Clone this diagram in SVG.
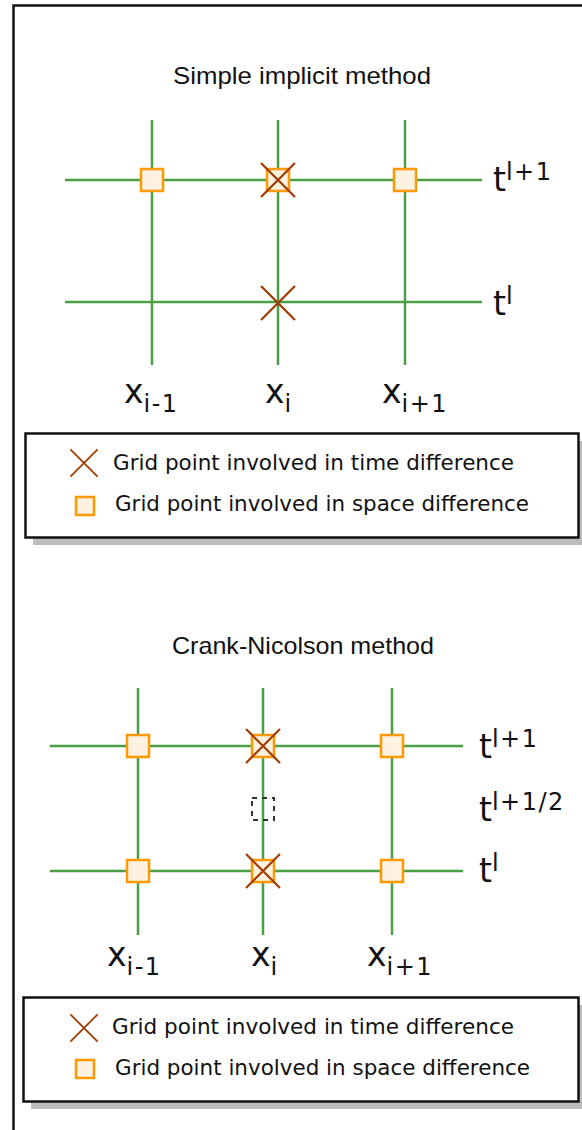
<svg xmlns="http://www.w3.org/2000/svg" width="582" height="1130" viewBox="0 0 582 1130">
<style>
.grid{stroke:#4a9e44;stroke-width:2.5;fill:none}
.sq{fill:#fdf2e2;stroke:#ff9900;stroke-width:2.5}
.xm{stroke:#a33a00;stroke-width:2.2;fill:none}
.title{font-family:"Liberation Sans",Arial,sans-serif;font-size:24px;fill:#111;text-anchor:middle}
.lab{font-family:"DejaVu Sans",Verdana,sans-serif;font-size:33px;fill:#111}
.sub{font-size:24px;letter-spacing:1.5px}
.leg{font-family:"DejaVu Sans",Verdana,sans-serif;font-size:21px;fill:#111}
.box{fill:#fff;stroke:#111;stroke-width:2.5}
.shadow{fill:#bdbdbd}
.dash{fill:none;stroke:#333;stroke-width:2;stroke-dasharray:5,5}
</style>
<defs>
<path id="xmark" class="xm" d="M-17,-17L17,17M17,-17L-17,17"/>
<rect id="sqm" class="sq" x="-11" y="-11" width="22" height="22"/>
</defs>
<rect width="582" height="1130" fill="#fff"/>
<g id="frame"><path d="M13.5,1130V5.5H582" fill="none" stroke="#111" stroke-width="2.5"/></g>

<g id="diagram1">
<text class="title" x="302" y="84" textLength="258" lengthAdjust="spacingAndGlyphs">Simple implicit method</text>
<g id="grid1" class="grid">
<line x1="152" y1="120" x2="152" y2="365"/>
<line x1="278" y1="120" x2="278" y2="365"/>
<line x1="405" y1="120" x2="405" y2="365"/>
<line x1="65" y1="180" x2="482" y2="180"/>
<line x1="65" y1="302" x2="482" y2="302"/>
</g>
<g id="n1a"><use href="#sqm" x="152" y="180"/></g>
<g id="n1b"><use href="#sqm" x="278" y="180"/><use href="#xmark" x="278" y="180"/></g>
<g id="n1c"><use href="#sqm" x="405" y="180"/></g>
<g id="n1d"><use href="#xmark" x="278" y="303"/></g>
<text class="lab" x="493" y="191">t<tspan class="sub" dy="-11">l+1</tspan></text>
<text class="lab" x="493" y="315">t<tspan class="sub" dy="-11">l</tspan></text>
<text class="lab" x="124" y="403">x<tspan class="sub" dy="9">i-1</tspan></text>
<text class="lab" x="265" y="403">x<tspan class="sub" dy="9">i</tspan></text>
<text class="lab" x="382" y="403">x<tspan class="sub" dy="9">i+1</tspan></text>
</g>

<g id="legend1">
<rect class="shadow" x="33" y="441" width="549" height="104"/>
<rect class="box" x="25.5" y="433.5" width="553" height="104"/>
<use href="#xmark" transform="translate(84,463) scale(0.8)"/>
<text class="leg" x="113" y="470" textLength="401" lengthAdjust="spacingAndGlyphs">Grid point involved in time difference</text>
<rect class="sq" x="76" y="497" width="18" height="18" stroke-width="2"/>
<text class="leg" x="115" y="511" textLength="414" lengthAdjust="spacingAndGlyphs">Grid point involved in space difference</text>
</g>

<g id="diagram2">
<text class="title" x="303" y="654" textLength="262" lengthAdjust="spacingAndGlyphs">Crank-Nicolson method</text>
<g id="grid2" class="grid">
<line x1="138" y1="688" x2="138" y2="935"/>
<line x1="263" y1="688" x2="263" y2="935"/>
<line x1="392" y1="688" x2="392" y2="935"/>
<line x1="50" y1="746" x2="463" y2="746"/>
<line x1="50" y1="871" x2="463" y2="871"/>
</g>
<g id="n2a"><use href="#sqm" x="138" y="746"/></g>
<g id="n2b"><use href="#sqm" x="263" y="746"/><use href="#xmark" x="263" y="746"/></g>
<g id="n2c"><use href="#sqm" x="392" y="746"/></g>
<g id="n2d"><use href="#sqm" x="138" y="871"/></g>
<g id="n2e"><use href="#sqm" x="263" y="871"/><use href="#xmark" x="263" y="871"/></g>
<g id="n2f"><use href="#sqm" x="392" y="871"/></g>
<g id="n2half"><rect class="dash" x="252" y="798" width="22" height="22"/></g>
<text class="lab" x="479" y="758">t<tspan class="sub" dy="-11">l+1</tspan></text>
<text class="lab" x="479" y="821">t<tspan class="sub" dy="-11">l+1/2</tspan></text>
<text class="lab" x="479" y="882">t<tspan class="sub" dy="-11">l</tspan></text>
<text class="lab" x="107" y="966">x<tspan class="sub" dy="9">i-1</tspan></text>
<text class="lab" x="251" y="966">x<tspan class="sub" dy="9">i</tspan></text>
<text class="lab" x="367" y="966">x<tspan class="sub" dy="9">i+1</tspan></text>
</g>

<g id="legend2">
<rect class="shadow" x="31" y="1005" width="551" height="104"/>
<rect class="box" x="23.5" y="997.5" width="555" height="104"/>
<use href="#xmark" transform="translate(84,1028) scale(0.8)"/>
<text class="leg" x="112" y="1034" textLength="402" lengthAdjust="spacingAndGlyphs">Grid point involved in time difference</text>
<rect class="sq" x="76" y="1060" width="18" height="18" stroke-width="2"/>
<text class="leg" x="115" y="1075" textLength="415" lengthAdjust="spacingAndGlyphs">Grid point involved in space difference</text>
</g>
</svg>
